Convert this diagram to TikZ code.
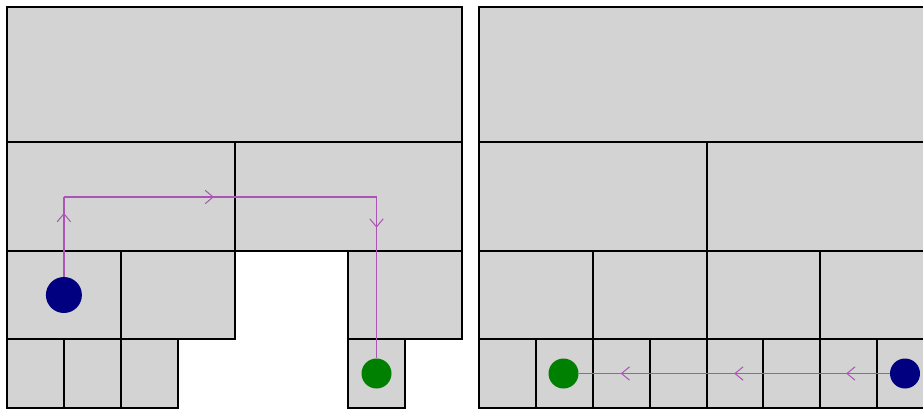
\documentclass[tikz,border=0pt]{standalone}
\usetikzlibrary{arrows.meta,decorations.markings}

\definecolor{cellgray}{RGB}{211,211,211}
\definecolor{routepurple}{RGB}{170,85,180}
\definecolor{startblue}{RGB}{0,0,128}
\definecolor{goalgreen}{RGB}{0,128,0}

\tikzset{
  cell/.style={fill=cellgray, draw=black, line width=0.06cm},
  route/.style={draw=routepurple, line width=0.04cm},
  flowtip/.style={postaction={decorate}, decoration={markings,
    mark=at position #1 with {\arrow[routepurple, line width=0.03cm]{Straight Barb[length=0.24cm, width=0.4cm]}}}},
  dot/.style={circle, inner sep=0pt, minimum size=0.9cm},
}

\begin{document}
\begin{tikzpicture}[x=0.03cm, y=-0.03cm]

% Frame
\clip (0, 0) rectangle (923, 411);

% Left grid
\draw[cell] (7, 7) rectangle (462, 142)
  (7, 142) rectangle (234.5, 251)
  (234.5, 142) rectangle (462, 251)
  (7, 251) rectangle (120.75, 339)
  (120.75, 251) rectangle (234.5, 339)
  (348.25, 251) rectangle (462, 339)
  (7, 339) rectangle (63.9, 408)
  (63.9, 339) rectangle (120.75, 408)
  (120.75, 339) rectangle (177.6, 408)
  (348.25, 339) rectangle (405.1, 408);

% Right grid
\draw[cell] (479, 7) rectangle (934, 142)
  (479, 142) rectangle (706.5, 251)
  (706.5, 142) rectangle (934, 251)
  (479, 251) rectangle (592.75, 339)
  (592.75, 251) rectangle (706.5, 339)
  (706.5, 251) rectangle (820.25, 339)
  (820.25, 251) rectangle (934, 339)
  (479, 339) rectangle (535.9, 408)
  (535.9, 339) rectangle (592.75, 408)
  (592.75, 339) rectangle (649.6, 408)
  (649.6, 339) rectangle (706.5, 408)
  (706.5, 339) rectangle (763.4, 408)
  (763.4, 339) rectangle (820.25, 408)
  (820.25, 339) rectangle (877.1, 408)
  (877.1, 339) rectangle (934, 408);

% Start and goal points
\node[dot, fill=startblue, minimum size=1.08cm] (startL) at (63.9, 295) {};
\node[dot, fill=goalgreen] (goalL) at (376.5, 373.5) {};
\node[dot, fill=startblue] (startR) at (905, 373.5) {};
\node[dot, fill=goalgreen] (goalR) at (563.5, 373.5) {};

% Bends
\coordinate (bendL1) at (63.9, 197);
\coordinate (bendL2) at (376.5, 197);

% Paths
\draw[route, flowtip=0.8] (startL) -- (bendL1);
\draw[route, flowtip=0.48] (bendL1) -- (bendL2);
\draw[route, flowtip=0.19] (bendL2) -- (goalL);
\draw[route, postaction={decorate}, decoration={markings,
  mark=at position 0.14 with {\arrow[line width=0.03cm]{Straight Barb[length=0.24cm, width=0.4cm]}},
  mark=at position 0.5 with {\arrow[line width=0.03cm]{Straight Barb[length=0.24cm, width=0.4cm]}},
  mark=at position 0.865 with {\arrow[line width=0.03cm]{Straight Barb[length=0.24cm, width=0.4cm]}}}]
  (startR) -- (goalR);

\end{tikzpicture}
\end{document}
